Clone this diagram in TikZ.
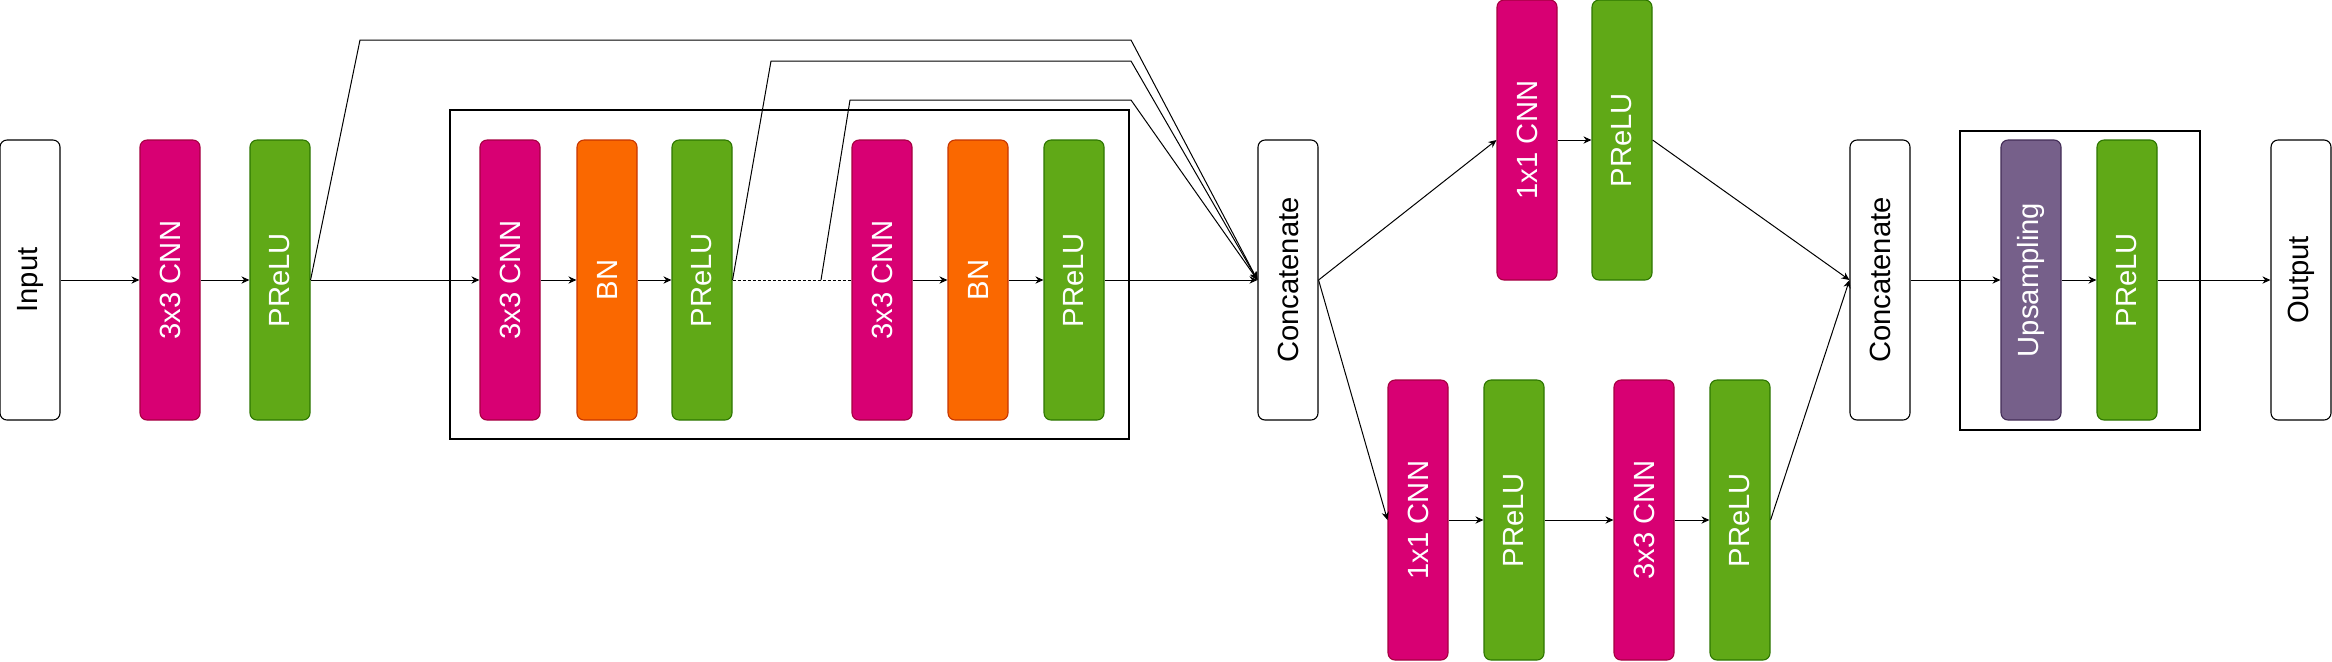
\documentclass[tikz,border=0pt]{standalone}
\usepackage{fontspec}
\setmainfont{Liberation Sans}
\usepackage{graphicx}
\usetikzlibrary{arrows.meta}

\definecolor{cnnfill}{HTML}{D80073}
\definecolor{cnnline}{HTML}{A50040}
\definecolor{bnfill}{HTML}{FA6800}
\definecolor{bnline}{HTML}{C73500}
\definecolor{relufill}{HTML}{60A917}
\definecolor{reluline}{HTML}{2D7600}
\definecolor{upfill}{HTML}{76608A}
\definecolor{upline}{HTML}{432D57}

\newcommand{\vlabel}[1]{\rotatebox{90}{#1}}

\tikzset{
	layer/.style={draw, rounded corners=3.5pt, minimum width=30pt, minimum height=140pt, inner sep=0pt, line width=0.55pt, font=\fontsize{14.6}{17}\selectfont},
	plain/.style={layer, fill=white, text=black},
	cnn/.style={layer, fill=cnnfill, draw=cnnline, text=white},
	bn/.style={layer, fill=bnfill, draw=bnline, text=white},
	prelu/.style={layer, fill=relufill, draw=reluline, text=white},
	upsamp/.style={layer, fill=upfill, draw=upline, text=white},
	frame/.style={draw, line width=0.55pt},
	conn/.style={line width=0.5pt}
}

\begin{document}
\begin{tikzpicture}[x=0.5pt, y=-0.5pt, >={Stealth[length=4pt,width=3.6pt]}]
			
			\useasboundingbox (0,0) rectangle (2332,661);
			
			\draw[frame] (450,110) rectangle (1129,439);
			
			\draw[frame] (1960,131) rectangle (2200,430);
			
			\node[plain] (in) at (30,280) {\vlabel{Input}};
			\node[cnn] (cnnA) at (170,280) {\vlabel{3x3 CNN}};
			\node[prelu] (preA) at (280,280) {\vlabel{PReLU}};
			
			\node[cnn] (cnnB) at (510,280) {\vlabel{3x3 CNN}};
			\node[bn] (bnB) at (607,280) {\vlabel{BN}};
			\node[prelu] (preB) at (702,280) {\vlabel{PReLU}};
			
			\node[cnn] (cnnC) at (882,280) {\vlabel{3x3 CNN}};
			\node[bn] (bnC) at (978,280) {\vlabel{BN}};
			\node[prelu] (preC) at (1074,280) {\vlabel{PReLU}};
			
			\node[plain] (cat1) at (1288,280) {\vlabel{Concatenate}};
			
			\node[cnn] (cnnU) at (1527,140) {\vlabel{1x1 CNN}};
			\node[prelu] (preU) at (1622,140) {\vlabel{PReLU}};
			
			\node[cnn] (cnnL) at (1418,520) {\vlabel{1x1 CNN}};
			\node[prelu] (preL) at (1514,520) {\vlabel{PReLU}};
			\node[cnn] (cnnM) at (1644,520) {\vlabel{3x3 CNN}};
			\node[prelu] (preM) at (1740,520) {\vlabel{PReLU}};
			
			\node[plain] (cat2) at (1880,280) {\vlabel{Concatenate}};
			
			\node[upsamp] (up) at (2031,280) {\vlabel{Upsampling}};
			\node[prelu] (preO) at (2127,280) {\vlabel{PReLU}};
			
			\node[plain] (out) at (2301,280) {\vlabel{Output}};
			
			\coordinate (s1a) at (360,40);
			\coordinate (s1b) at (1131,40);
			\coordinate (s2a) at (771,61);
			\coordinate (s2b) at (1131,61);
			\coordinate (s3) at (821,280);
			\coordinate (s3a) at (850,100);
			\coordinate (s3b) at (1131,100);
			
			\draw[conn,->] (in) -- (cnnA);
			\draw[conn,->] (cnnA) -- (preA);
			\draw[conn,->] (preA) -- (cnnB);
			\draw[conn,->] (cnnB) -- (bnB);
			\draw[conn,->] (bnB) -- (preB);
			\draw[conn,dash pattern=on 1.5pt off 1pt] (preB) -- (cnnC);
			\draw[conn,->] (cnnC) -- (bnC);
			\draw[conn,->] (bnC) -- (preC);
			\draw[conn,->] (preC) -- (cat1);
			
			\draw[conn,->] (preA.east) -- (s1a) -- (s1b) -- (cat1.west);
			\draw[conn,->] (preB.east) -- (s2a) -- (s2b) -- (cat1.west);
			\draw[conn,->] (s3) -- (s3a) -- (s3b) -- (cat1.west);
			
			\draw[conn,->] (cat1.east) -- (cnnU.west);
			\draw[conn,->] (cnnU) -- (preU);
			\draw[conn,->] (preU.east) -- (cat2.west);
			
			\draw[conn,->] (cat1.east) -- (cnnL.west);
			\draw[conn,->] (cnnL) -- (preL);
			\draw[conn,->] (preL) -- (cnnM);
			\draw[conn,->] (cnnM) -- (preM);
			\draw[conn,->] (preM.east) -- (cat2.west);
			
			\draw[conn,->] (cat2) -- (up);
			\draw[conn,->] (up) -- (preO);
			\draw[conn,->] (preO) -- (out);
			
		\end{tikzpicture}
\end{document}
